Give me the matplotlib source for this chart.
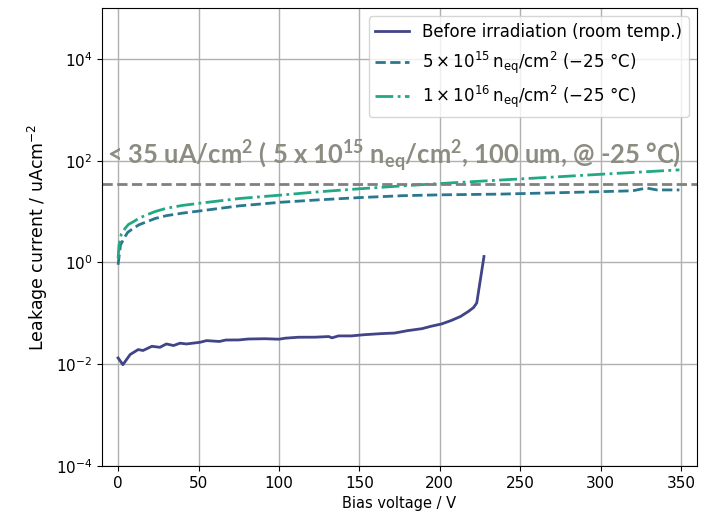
import numpy as np
import matplotlib.pyplot as plt

# leakage current density (uA/cm^2)
v_before = [0, 3, 7.5, 12.5, 15.5, 21, 26, 30, 34.5, 38.5, 42.5, 51, 55, 63, 67, 75,
            81, 91.5, 100, 104, 112, 122.5, 131, 133, 137, 145, 153, 164, 172, 180,
            189, 194.5, 201, 207, 213, 218, 221, 223, 227.5]
i_before = [0.0133, 0.0098, 0.0155, 0.0194, 0.0186, 0.0225, 0.0215, 0.025, 0.0233,
            0.0259, 0.025, 0.027, 0.0291, 0.028, 0.0299, 0.030, 0.0313, 0.0317, 0.031,
            0.0325, 0.0339, 0.034, 0.035, 0.033, 0.036, 0.036, 0.038, 0.040, 0.041,
            0.0457, 0.050, 0.0556, 0.0617, 0.072, 0.087, 0.11, 0.13, 0.16, 1.31]

v_5e15 = [0, 1.5, 3.7, 6, 9.5, 13, 17.8, 23, 30, 40, 51, 75, 100.7, 125, 150, 177,
          200, 237, 270, 300, 320, 328.5, 335, 349]
i_5e15 = [0.9, 2.2, 3.0, 3.9, 4.7, 5.5, 6.3, 7.3, 8.3, 9.3, 10.3, 12.9, 15.2, 17.0,
          18.8, 20.5, 21.3, 22.0, 23.3, 24.6, 25.6, 29.0, 26.6, 26.6]

v_1e16 = [0, 0.6, 2, 4.4, 6.5, 9.5, 13, 17.8, 23, 30, 40, 51, 75, 100.7, 125, 150,
          177, 200, 237, 270, 300, 349]
i_1e16 = [1.2, 2.2, 3.6, 4.7, 5.6, 6.3, 7.4, 8.6, 10.0, 11.6, 13.2, 14.6, 18.0, 21.0,
          24.5, 28.0, 32.0, 35.5, 41.5, 47.5, 54.0, 66.0]

limit = 35

fig = plt.figure(figsize=(7.02, 5.16), dpi=100)
ax = fig.add_axes([0.1453, 0.0969, 0.8477, 0.8876])

ax.plot(v_before, i_before, color='#414487', lw=2, label='Before irradiation (room temp.)')
ax.plot(v_5e15, i_5e15, color='#2a788e', lw=2, ls='--',
        label=r'$5 \times 10^{15}\,\mathrm{n_{eq}/cm^2}$ ($-25$ °C)')
ax.plot(v_1e16, i_1e16, color='#22a884', lw=2, ls='-.',
        label=r'$1 \times 10^{16}\,\mathrm{n_{eq}/cm^2}$ ($-25$ °C)')
ax.axhline(limit, color='#808080', lw=2, ls='--')

ax.text(-7, 85,
        r'< 35 uA/cm$\mathregular{^{2}}$ ( 5 x 10$\mathregular{^{15}}$ '
        r'n$\mathregular{_{eq}}$/cm$\mathregular{^{2}}$, 100 um, @ -25 °C)',
        fontsize=18.4, fontweight='bold', family='Lato', color='#8c8c82',
        va='baseline', ha='left')

ax.set_yscale('log')
ax.set_xlim(-10, 360)
ax.set_ylim(1e-4, 1e5)
ax.set_yticks([1e-4, 1e-2, 1, 1e2, 1e4])
ax.minorticks_off()
ax.set_xticks(np.arange(0, 351, 50))
ax.tick_params(labelsize=11)
ax.grid(True, color='#b0b0b0', lw=1)
ax.set_axisbelow(True)

ax.set_xlabel('Bias voltage / V', fontsize=10.5)
ax.set_ylabel(r'Leakage current / uAcm$^{-2}$', fontsize=12.5)
ax.legend(loc='upper right', fontsize=12)

fig.savefig('out.png', dpi=100)
